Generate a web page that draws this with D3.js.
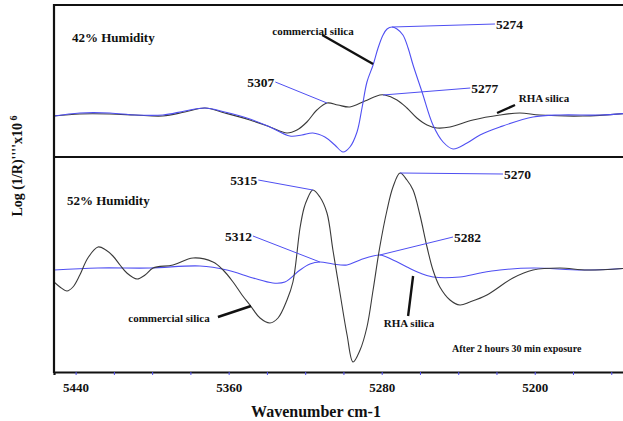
<!DOCTYPE html>
<html lang="en">
<head>
  <meta charset="UTF-8">
  <script src="https://cdn.jsdelivr.net/npm/d3@7"></script>
  <title>NIR second derivative</title>
  <style type="text/css">
    * { margin: 0; padding: 0; }
    html, body { width: 100%; height: 100%; background-color: #fff; }
    svg text { font-family: "Liberation Serif", "Times New Roman", serif; font-weight: bold; fill: #111; }
  </style>
</head>
<body>
<div id="box"></div>
<script type="text/javascript">
  // wavenumbers (cm-1) and second-derivative values (arbitrary units)
  var wTop = [5451.3, 5437.8, 5422.1, 5409.0, 5394.4, 5382.9, 5372.4, 5362.0, 5348.9, 5338.4,
              5328.0, 5321.7, 5316.0, 5309.7, 5304.5, 5300.2, 5296.6, 5292.9, 5290.3, 5287.7,
              5284.5, 5281.9, 5279.3, 5277.2, 5274.6, 5272.0, 5268.9, 5266.2, 5263.6, 5258.9,
              5253.2, 5247.9, 5242.7, 5235.4, 5228.6, 5218.2, 5200.9, 5186.8, 5165.9, 5150.2]
  // 42% humidity, commercial silica (blue)
  var commercial42 = [0, 0.3, 0.3, 0.1, 0.1, 0.5, 0.8, 0.4, -0.3, -1.1,
                      -2.0, -1.9, -1.7, -2.1, -2.9, -3.6, -3.1, -1.6, 0.8, 3.4,
                      5.1, 6.8, 8.1, 8.7, 8.9, 8.7, 8.1, 6.8, 5.1, 2.4,
                      -0.9, -2.6, -3.3, -2.7, -1.9, -1.1, -0.1, 0.1, 0.1, 0.3]

  var wTopRha = [5451.3, 5437.8, 5422.1, 5409.0, 5394.4, 5382.9, 5372.4, 5362.0, 5348.9, 5338.4,
                 5329.5, 5324.3, 5319.1, 5313.9, 5308.6, 5302.9, 5296.6, 5288.8, 5281.0, 5278.4,
                 5272.0, 5266.8, 5261.6, 5256.3, 5251.1, 5244.3, 5232.3, 5218.2, 5207.8, 5197.3,
                 5174.8, 5150.2]
  // 42% humidity, RHA silica (black)
  var rha42 = [0, 0.2, 0.2, 0.1, 0, 0.4, 0.8, 0.3, -0.4, -1.1,
               -1.7, -1.4, -0.6, 0.6, 1.3, 1.1, 0.9, 1.5, 2.1, 2.1,
               1.6, 0.8, -0.2, -0.9, -1.2, -1.1, -0.4, 0.1, 0.3, 0.1,
               0, 0.3]

  var wBot = [5451.3, 5448.2, 5444.5, 5441.4, 5437.8, 5433.6, 5428.3, 5424.2, 5420.5, 5416.8,
              5413.2, 5407.9, 5403.7, 5399.5, 5389.1, 5378.6, 5368.2, 5362.9, 5357.7, 5353.0,
              5348.9, 5343.6, 5338.4, 5334.2, 5329.5, 5326.4, 5322.7, 5320.6, 5319.1, 5316.0,
              5312.3, 5308.6, 5305.5, 5301.8, 5298.1, 5295.0, 5291.3, 5287.7, 5284.5, 5281.0,
              5277.2, 5274.1, 5270.4, 5266.8, 5263.6, 5260.0, 5256.3, 5253.2, 5249.6, 5244.3,
              5239.1, 5233.9, 5225.0, 5211.4, 5200.9, 5186.8, 5172.6, 5150.2]
  // 52% humidity, commercial silica (black)
  var commercial52 = [-1.2, -1.7, -2.1, -1.7, -0.5, 1.2, 2.3, 2.0, 1.4, 0.5,
                      -0.3, -0.9, -0.5, 0.2, 0.5, 1.2, 0.8, 0, -1.2, -2.5,
                      -3.5, -4.8, -5.3, -4.8, -3.0, -1.2, 4.2, 6.2, 7.0, 8.0,
                      7.3, 5.7, 2.0, -2.3, -6.5, -9.2, -8.0, -5.7, -2.0, 2.3,
                      6.0, 8.3, 9.7, 9.0, 8.0, 5.5, 2.3, 0, -1.7, -3.0,
                      -3.5, -3.2, -2.5, -0.8, 0, 0.2, 0, 0.2]

  var wBotRha = [5451.3, 5428.3, 5401.1, 5375.0, 5360.9, 5347.3, 5336.9, 5330.6, 5322.7, 5317.5,
                 5312.3, 5305.5, 5298.1, 5291.3, 5281.0, 5274.1, 5266.8, 5260.0, 5253.2, 5239.1,
                 5228.6, 5218.2, 5200.9, 5174.8, 5150.2]
  // 52% humidity, RHA silica (blue)
  var rha52 = [0, 0.2, 0.2, 0.4, 0, -0.8, -1.3, -1.2, 0, 0.6,
               0.8, 0.6, 0.5, 1.0, 1.5, 1.0, 0.3, -0.3, -0.7, -0.7,
               -0.3, 0, 0.2, 0, 0.2]

  var tickVals = d3.range(5440, 5150, -20)
  var labelVals = [5440, 5360, 5280, 5200]

  var width = 623
  var height = 421
  var left = 54, right = 630
  var svg = d3.select('#box').append('svg')
    .attr('width', width).attr('height', height)

  var x = d3.scaleLinear().domain([5451.3, 5150.2]).range([left, right])
  var yTop = d3.scaleLinear().domain([-4.1, 11.1]).range([157, 5])
  var yBot = d3.scaleLinear().domain([-10.2, 11.3]).range([372, 157])

  var blue = '#4f4ff2'
  var dark = '#3a3a3a'

  svg.append('clipPath').attr('id', 'cTop').append('rect')
    .attr('x', left).attr('y', 5).attr('width', right - left).attr('height', 152)
  svg.append('clipPath').attr('id', 'cBot').append('rect')
    .attr('x', left).attr('y', 157).attr('width', right - left).attr('height', 215)

  function draw(ws, vs, y, color, clip) {
    var line = d3.line()
      .x(function (d) { return x(d[0]) })
      .y(function (d) { return y(d[1]) })
      .curve(d3.curveCatmullRom.alpha(0.5))
    svg.append('path')
      .datum(d3.zip(ws, vs))
      .attr('d', line)
      .attr('fill', 'none')
      .attr('stroke', color)
      .attr('stroke-width', 1.1)
      .attr('clip-path', 'url(#' + clip + ')')
  }
  draw(wTopRha, rha42, yTop, dark, 'cTop')
  draw(wTop, commercial42, yTop, blue, 'cTop')
  draw(wBotRha, rha52, yBot, blue, 'cBot')
  draw(wBot, commercial52, yBot, dark, 'cBot')

  // frame
  var frame = svg.append('g').attr('stroke', '#111').attr('stroke-width', 2.2)
  frame.append('line').attr('x1', left).attr('x2', right).attr('y1', 5).attr('y2', 5)
  frame.append('line').attr('x1', left).attr('x2', right).attr('y1', 157).attr('y2', 157)
  frame.append('line').attr('x1', left).attr('x2', left).attr('y1', 4).attr('y2', 373)

  // x axis
  var xaxis = d3.axisBottom(x)
    .tickValues(tickVals)
    .tickSize(3)
    .tickPadding(8)
    .tickFormat(function (d) { return labelVals.indexOf(d) >= 0 ? d : '' })
  var gx = svg.append('g').attr('transform', 'translate(0,372)').call(xaxis)
  gx.select('.domain').attr('stroke', '#111').attr('stroke-width', 2.2)
  gx.selectAll('.tick line').attr('stroke', blue)
  gx.selectAll('.tick text').style('font-size', '13px').attr('fill', '#111')

  svg.append('text').attr('x', 316).attr('y', 417)
    .attr('text-anchor', 'middle').style('font-size', '16px')
    .text('Wavenumber cm-1')

  var ylab = svg.append('text')
    .attr('transform', 'translate(22,166) rotate(-90)')
    .attr('text-anchor', 'middle').style('font-size', '14px')
  ylab.append('tspan').text("Log (1/R)''''x10")
  ylab.append('tspan').attr('dy', -5).style('font-size', '10px').text(' 6')

  // panel notes
  svg.append('text').attr('x', 72).attr('y', 42).style('font-size', '13px').text('42% Humidity')
  svg.append('text').attr('x', 67).attr('y', 205).style('font-size', '13px').text('52% Humidity')
  svg.append('text').attr('x', 452).attr('y', 352).style('font-size', '10px').text('After 2 hours 30 min exposure')

  // peak labels: [label, from wn, from val, to wn, to val, side, panel]
  var peaks = [
    ['5274', 5274.6, 8.9, 5220.8, 9.2, 'start', yTop],
    ['5277', 5279.3, 2.1, 5233.7, 2.8, 'start', yTop],
    ['5307', 5308.6, 1.3, 5335.6, 3.4, 'end', yTop],
    ['5315', 5316.0, 8.0, 5344.5, 9.0, 'end', yBot],
    ['5270', 5270.4, 9.7, 5216.6, 9.6, 'start', yBot],
    ['5312', 5312.3, 0.8, 5347.3, 3.4, 'end', yBot],
    ['5282', 5281.0, 1.5, 5242.7, 3.3, 'start', yBot]
  ]
  peaks.forEach(function (p) {
    var y = p[6]
    svg.append('line')
      .attr('x1', x(p[1])).attr('y1', y(p[2]))
      .attr('x2', x(p[3])).attr('y2', y(p[4]))
      .attr('stroke', blue).attr('stroke-width', 1)
    svg.append('text')
      .attr('x', x(p[3]) + (p[5] === 'start' ? 1 : -1)).attr('y', y(p[4]) + 5)
      .attr('text-anchor', p[5]).style('font-size', '13.5px')
      .text(p[0])
  })

  // sample labels with pointer lines
  var names = [
    ['commercial silica', 313, 35, 5311.1, 8.1, 5284.5, 5.2, yTop],
    ['RHA silica', 544, 102, 5219.7, 0.3, 5210.3, 1.1, yTop],
    ['commercial silica', 169, 322, 5365.6, -4.7, 5348.3, -3.6, yBot],
    ['RHA silica', 409, 327, 5266.2, -4.6, 5263.6, -0.6, yBot]
  ]
  names.forEach(function (n) {
    var y = n[7]
    svg.append('line')
      .attr('x1', x(n[3])).attr('y1', y(n[4]))
      .attr('x2', x(n[5])).attr('y2', y(n[6]))
      .attr('stroke', '#111').attr('stroke-width', 2.4)
    svg.append('text').attr('x', n[1]).attr('y', n[2])
      .attr('text-anchor', 'middle').style('font-size', '11px')
      .text(n[0])
  })
</script>
</body>
</html>
